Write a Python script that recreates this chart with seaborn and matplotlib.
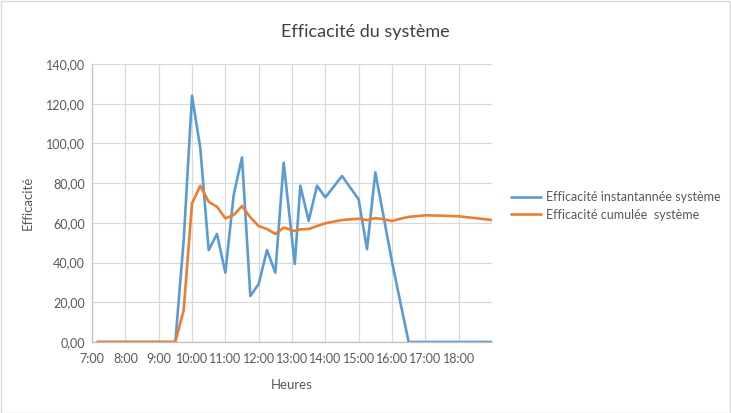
import matplotlib
matplotlib.use("Agg")
import matplotlib.pyplot as plt
from matplotlib.ticker import FuncFormatter, MultipleLocator
from matplotlib.patches import Rectangle
import pandas as pd
import seaborn as sns

# readings every quarter hour (some points off the grid, as in the sheet)
heures = ["7:10", "7:30", "8:00", "8:30", "9:00", "9:30", "9:45",
          "10:00", "10:15", "10:30", "10:45", "11:00", "11:15", "11:30", "11:45",
          "12:00", "12:15", "12:30", "12:45", "13:05", "13:15", "13:30", "13:45",
          "14:00", "14:15", "14:30", "14:45", "15:00", "15:15", "15:30", "15:45",
          "16:00", "16:15", "16:30", "16:45", "17:00", "17:30", "18:00", "18:30", "19:00"]
eff_instant = [0, 0, 0, 0, 0, 0, 51,
               124, 97.5, 46.3, 54.4, 34.9, 74, 93, 23.2,
               29.2, 46.3, 34.9, 90.3, 39.3, 78.7, 61, 78.7,
               72.8, 78.2, 83.6, 77.7, 71.8, 46.7, 85.4, 63,
               40.4, 20, 0, 0, 0, 0, 0, 0, 0]
eff_cumul = [0, 0, 0, 0, 0, 0, 16,
             69.8, 78.7, 70.6, 68.1, 62.3, 63.9, 68.5, 62.8,
             58.4, 56.9, 54.4, 57.6, 55.9, 56.7, 56.9, 58.4,
             59.8, 60.6, 61.4, 61.8, 62.1, 61.4, 62.4, 61.8,
             60.9, 62.1, 63, 63.4, 63.8, 63.6, 63.3, 62.4, 61.4]
series = ["Efficacité instantannée système", "Efficacité cumulée  système"]
x_ticks = ["7:00", "8:00", "9:00", "10:00", "11:00", "12:00",
           "13:00", "14:00", "15:00", "16:00", "17:00", "18:00"]


def to_hours(s):
    h, m = s.split(":")
    return int(h) + int(m) / 60


hrs = [to_hours(h) for h in heures]
df = pd.concat([
    pd.DataFrame({"h": hrs, "val": eff_instant, "serie": series[0]}),
    pd.DataFrame({"h": hrs, "val": eff_cumul, "serie": series[1]}),
])

sns.set_style("white")
plt.rcParams["font.family"] = ["Lato", "DejaVu Sans"]
txt = "#595959"

fig = plt.figure(figsize=(7.31, 4.13), dpi=100)
ax = fig.add_axes([92 / 731, 1 - 342 / 413, 400 / 731, 278 / 413])

sns.lineplot(data=df, x="h", y="val", hue="serie", palette=["#5B9BD5", "#ED7D31"],
             linewidth=1.9, ax=ax, sort=False)

ax.set_xlim(7, 19)
ax.set_ylim(0, 140)
ax.yaxis.set_major_locator(MultipleLocator(20))
ax.yaxis.set_major_formatter(FuncFormatter(lambda v, p: f"{v:.2f}".replace(".", ",")))
ax.set_xticks([to_hours(t) for t in x_ticks])
ax.set_xticklabels(x_ticks)
ax.grid(True, color="#d9d9d9", linewidth=0.9)
for s in ["top", "right"]:
    ax.spines[s].set_visible(False)
for s in ["left", "bottom"]:
    ax.spines[s].set_color("#bfbfbf")
    ax.spines[s].set_linewidth(0.9)
ax.tick_params(axis="x", length=4, color="#bfbfbf", labelsize=9, labelcolor=txt, pad=4)
ax.tick_params(axis="y", length=0, labelsize=9, labelcolor=txt, pad=5)

ax.set_xlabel("Heures", fontsize=9.5, color=txt, labelpad=10)
ax.set_ylabel("Efficacité", fontsize=9.5, color=txt, labelpad=9)
fig.text(0.5, 1 - 32 / 413, "Efficacité du système", fontsize=13, color="#404040",
         ha="center", va="center")

leg = ax.legend(loc="center left", bbox_to_anchor=(500 / 731, 1 - 206 / 413),
                bbox_transform=fig.transFigure, frameon=False, fontsize=9,
                handlelength=2.4, labelspacing=0.45, handletextpad=0.4, title=None)
for t in leg.get_texts():
    t.set_color(txt)

fig.patches.append(Rectangle((0.5 / 731, 0.5 / 413), 1 - 1.5 / 731, 1 - 1.5 / 413,
                             transform=fig.transFigure, fill=False,
                             edgecolor="#d9d9d9", linewidth=1))

fig.savefig("out.png", dpi=100)
